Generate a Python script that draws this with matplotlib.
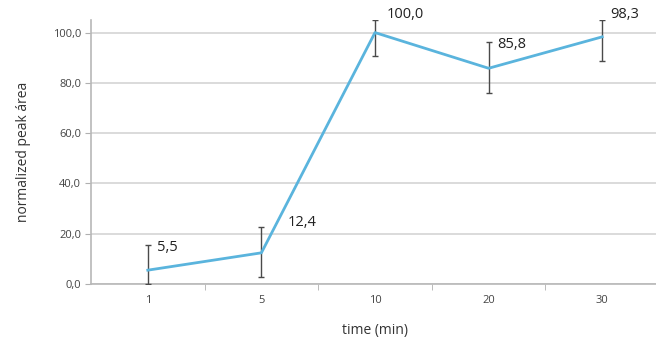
import matplotlib
matplotlib.use("Agg")
import matplotlib.pyplot as plt
from matplotlib.ticker import FuncFormatter, FixedLocator

plt.rcParams['font.family'] = ['Open Sans', 'DejaVu Sans']

times = ["1", "5", "10", "20", "30"]
area = [5.5, 12.4, 100.0, 85.8, 98.3]
err_low = [5.5, 9.8, 9.5, 10.0, 9.5]
err_high = [10.2, 10.2, 5.0, 10.5, 6.7]

# label offsets (pixels) from each point
lbl_dx = [9, 26, 12, 9, 8]
lbl_dy = [23, 30, 18, 24, 22]

fig = plt.figure(figsize=(6.56, 3.42), dpi=100)
ax = fig.add_axes([91/656, 1 - 284/342, 568/656, 264/342])

x = list(range(len(times)))
ax.errorbar(x, area, yerr=[err_low, err_high], fmt='none', ecolor='#4a4a4a',
            elinewidth=1.0, capsize=2.5, capthick=1.0, zorder=3)
ax.plot(x, area, color='#5ab4dd', lw=2.0, zorder=4)

for i, v in enumerate(area):
    ax.annotate(f"{v:.1f}".replace(".", ","), (x[i], v), xytext=(lbl_dx[i], lbl_dy[i]),
                textcoords='offset pixels', ha='left', va='center', fontsize=10.5,
                color='#222222', zorder=5)

ax.set_xlim(-0.5, len(times) - 0.5)
ax.set_ylim(0, 105)
ax.set_xticks(x)
ax.set_xticklabels(times)
ax.xaxis.set_minor_locator(FixedLocator([i + 0.5 for i in x[:-1]]))
ax.tick_params(axis='x', which='major', length=0, labelsize=8, colors='#444444', pad=8)
ax.tick_params(axis='x', which='minor', length=4, color='#b0b0b0')
ax.set_yticks([0, 20, 40, 60, 80, 100])
ax.yaxis.set_major_formatter(FuncFormatter(lambda v, p: f"{v:.1f}".replace(".", ",")))
ax.tick_params(axis='y', length=4, color='#b0b0b0', labelsize=8, colors='#444444', pad=3)

ax.grid(axis='y', color='#d4d4d4', lw=1.2)
ax.set_axisbelow(True)
for s in ['top', 'right']:
    ax.spines[s].set_visible(False)
ax.spines['left'].set_color('#b8b8b8')
ax.spines['bottom'].set_color('#b8b8b8')
ax.spines['left'].set_linewidth(1.2)
ax.spines['bottom'].set_linewidth(1.2)

ax.set_xlabel("time (min)", fontsize=10, color='#333333', labelpad=12)
ax.set_ylabel("normalized peak área", fontsize=10, color='#333333', labelpad=16)

fig.savefig("out.png", dpi=100)
